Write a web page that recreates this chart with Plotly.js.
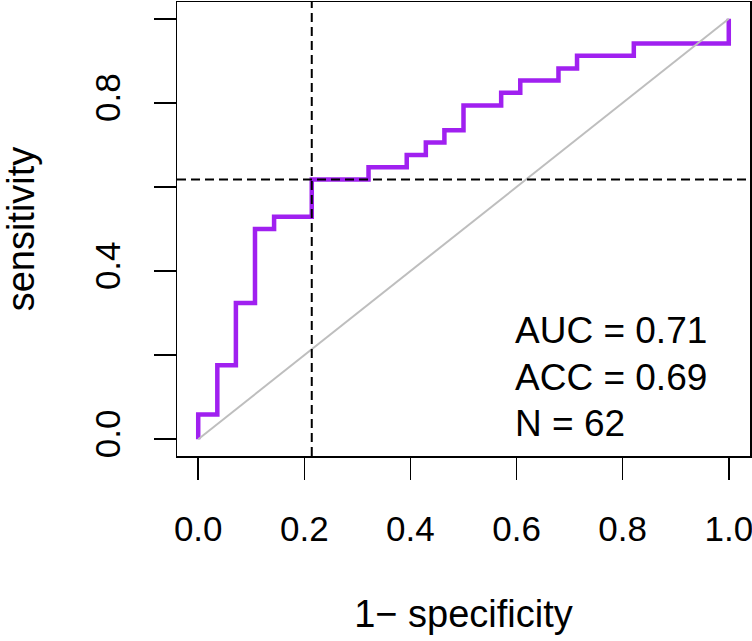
<!DOCTYPE html>
<html>
<head>
<meta charset="utf-8">
<script src="https://cdn.plot.ly/plotly-3.0.1.min.js"></script>
<style>html,body{margin:0;padding:0;background:#fff}</style>
</head>
<body>
<div id="chart" style="width:752px;height:641px"></div>
<script>
// ROC curve vertices (1 - specificity, sensitivity), step-wise
const fpr = [0, 0, 0.036, 0.071, 0.107, 0.143, 0.214, 0.321, 0.393, 0.429, 0.464, 0.500, 0.571, 0.607, 0.679, 0.714, 0.821, 1.000];
const tpr = [0, 0.059, 0.176, 0.324, 0.500, 0.529, 0.618, 0.647, 0.676, 0.706, 0.735, 0.794, 0.824, 0.853, 0.882, 0.912, 0.941, 1.000];
// chance diagonal
const diagX = [0, 1];
const diagY = [0, 1];
// optimal cut-off point
const cutFpr = 0.214;
const cutTpr = 0.618;
// stats text
const statLabels = ["AUC = 0.71", "ACC = 0.69", "N = 62"];
// tick labels
const xTickVals = [0, 0.2, 0.4, 0.6, 0.8, 1.0];
const xTickText = ["0.0", "0.2", "0.4", "0.6", "0.8", "1.0"];
const yTickVals = [0, 0.2, 0.4, 0.6, 0.8, 1.0];
const yTickText = ["0.0", "", "0.4", "", "0.8", ""];

const FONT = "Liberation Sans, Arial, Helvetica, sans-serif";

const traces = [
  {
    x: fpr, y: tpr, type: "scatter", mode: "lines",
    line: {color: "#A020F0", width: 4.5, shape: "hv"},
    hoverinfo: "skip"
  },
  {
    x: diagX, y: diagY, type: "scatter", mode: "lines",
    line: {color: "#BEBEBE", width: 2},
    hoverinfo: "skip"
  }
];

const statY = [0.259, 0.147, 0.037];
const annotations = statLabels.map((t, i) => ({
  text: t, x: 0.593, y: statY[i], xref: "x", yref: "y",
  xanchor: "left", yanchor: "middle", showarrow: false,
  font: {family: FONT, size: 37, color: "#000"}
}));

const layout = {
  width: 752, height: 641,
  margin: {l: 177, r: 2, t: 2, b: 185, pad: 0},
  paper_bgcolor: "#fff", plot_bgcolor: "#fff",
  showlegend: false,
  font: {family: FONT, color: "#000"},
  xaxis: {
    range: [-0.04, 1.04], tickvals: xTickVals, ticktext: xTickText,
    ticks: "outside", ticklen: 22, tickwidth: 1.5, tickcolor: "#000",
    showline: true, mirror: true, linecolor: "#000", linewidth: 1.5,
    showgrid: false, zeroline: false, automargin: false,
    tickfont: {family: FONT, size: 35, color: "#000"},
    ticklabelstandoff: 19,
    ticklabeloverflow: "allow",
    title: {text: "1\u2212 specificity", font: {family: FONT, size: 38, color: "#000"}, standoff: 54}
  },
  yaxis: {
    range: [-0.04, 1.04], tickvals: yTickVals, ticktext: yTickText,
    ticks: "outside", ticklen: 22, tickwidth: 1.5, tickcolor: "#000",
    showline: true, mirror: true, linecolor: "#000", linewidth: 1.5,
    showgrid: false, zeroline: false, automargin: false,
    tickangle: -90,
    tickfont: {family: FONT, size: 35, color: "#000"},
    ticklabelstandoff: 20,
    ticklabeloverflow: "allow",
    title: {text: "sensitivity", font: {family: FONT, size: 38, color: "#000"}, standoff: 49}
  },
  shapes: [
    {type: "line", xref: "x", yref: "paper", x0: cutFpr, x1: cutFpr, y0: 0, y1: 1,
     line: {color: "#000", width: 2, dash: "9px,5px"}, layer: "above"},
    {type: "line", xref: "paper", yref: "y", x0: 0, x1: 1, y0: cutTpr, y1: cutTpr,
     line: {color: "#000", width: 2, dash: "9px,5px"}, layer: "above"}
  ],
  annotations: annotations
};

Plotly.newPlot("chart", traces, layout, {displayModeBar: false, staticPlot: true});
</script>
</body>
</html>
